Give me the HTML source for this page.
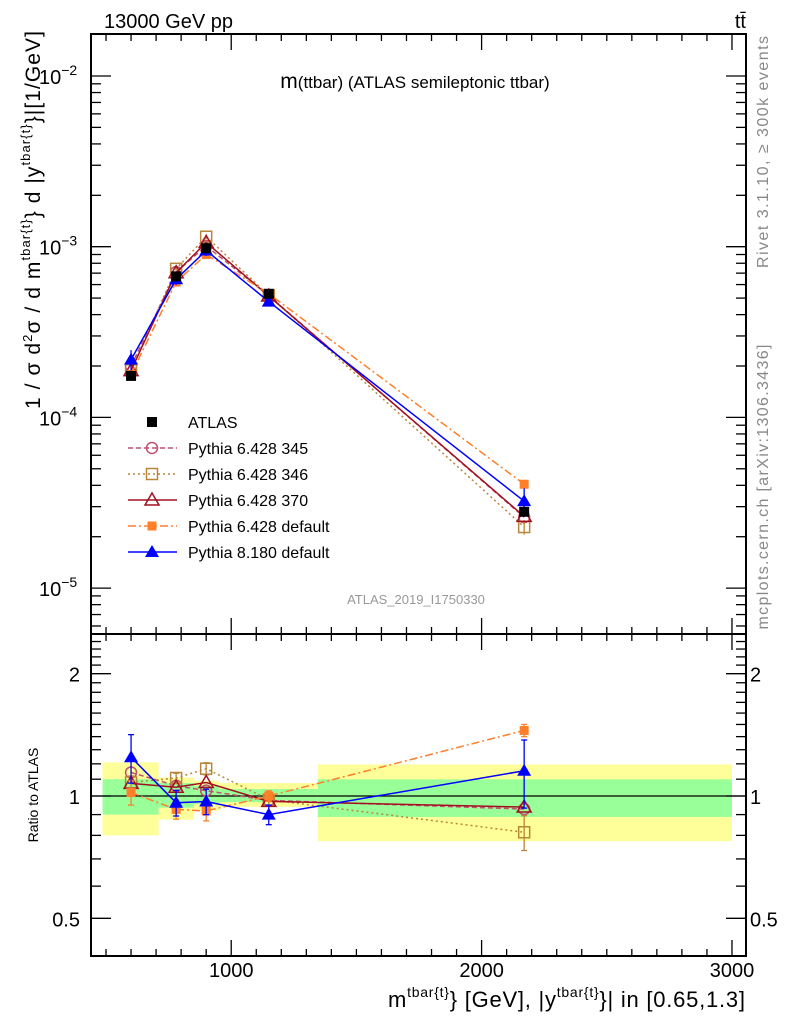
<!DOCTYPE html>
<html><head><meta charset="utf-8"><style>
body{margin:0;background:#fff}
svg{display:block;font-family:"Liberation Sans",sans-serif}
</style></head><body>
<svg id="c" width="786" height="1024" viewBox="0 0 786 1024" xmlns="http://www.w3.org/2000/svg">
<g id="bands"></g><g id="axes"></g><g id="series"></g><g id="labels"></g>
</svg>
<script>
const xs=[600,780,900,1150,2170];
const binLo=[486,710,852,952,1346];
const binHi=[710,852,952,1346,3000];
const atlas=[1.75e-4,6.7e-4,9.8e-4,5.3e-4,2.8e-5];
const yellowUp=[1.21,1.11,1.09,1.076,1.196];
const yellowDn=[0.80,0.875,0.92,0.94,0.774];
const greenUp=[1.10,1.076,1.06,1.04,1.099];
const greenDn=[0.90,0.936,0.955,0.966,0.888];
const p345=[2.0e-4,7.1e-4,1.01e-3,5.17e-4,2.6e-5];
const p346=[1.89e-4,7.42e-4,1.144e-3,5.19e-4,2.28e-5];
const p370=[1.88e-4,7.04e-4,1.058e-3,5.14e-4,2.63e-5];
const pdef=[1.785e-4,6.21e-4,9.0e-4,5.3e-4,4.06e-5];
const p8=[2.18e-4,6.45e-4,9.5e-4,4.77e-4,3.23e-5];
const errP8=[0.17,0.07,0.07,0.05,0.22];
const errDef=[0.07,0.05,0.05,0.03,0.05];
const err346=[0.04,0.03,0.04,0.03,0.08];
const xTicks=[1000,2000,3000];
const yTickExp=[-2,-3,-4,-5];
const rTicks=[0.5,1,2];

const NS="http://www.w3.org/2000/svg";
const L=91,R=746,T=34,MB=634,RB=956;
const X=v=>L+(v-440)*(R-L)/(3056-440);
const Y=v=>76+(-2-Math.log10(v))*170.7;
const RY=v=>796-Math.log2(v)*122.3;
function mk(p,tag,a){const e=document.createElementNS(NS,tag);for(const k in a)e.setAttribute(k,a[k]);p.appendChild(e);return e;}
const gB=document.getElementById('bands'),gA=document.getElementById('axes'),gS=document.getElementById('series'),gL=document.getElementById('labels');

for(let i=0;i<xs.length;i++){
 let y=mk(gB,'rect',{x:X(binLo[i]),y:RY(yellowUp[i]),width:X(binHi[i])-X(binLo[i]),height:RY(yellowDn[i])-RY(yellowUp[i]),fill:'#ffff99'});
 
 
 let g=mk(gB,'rect',{x:X(binLo[i]),y:RY(greenUp[i]),width:X(binHi[i])-X(binLo[i]),height:RY(greenDn[i])-RY(greenUp[i]),fill:'#99ff99'});
 
 
}
mk(gB,'line',{x1:L,x2:R,y1:RY(1),y2:RY(1),stroke:'#000','stroke-width':1.3});

const f1=mk(gA,'rect',{x:L,y:T,width:R-L,height:MB-T,fill:'none',stroke:'#000','stroke-width':2});


const f2=mk(gA,'rect',{x:L,y:MB,width:R-L,height:RB-MB,fill:'none',stroke:'#000','stroke-width':2});


for(let v=500;v<=3000;v+=100){
 const major=v%1000===0, x=X(v), len=major?16:7;
 for(const [yb,dir] of [[MB,-1],[T,1],[RB,-1],[MB,1]]){
  mk(gA,'line',{x1:x,x2:x,y1:yb,y2:yb+dir*len,stroke:'#000','stroke-width':1.3});
 }
}
xTicks.forEach(v=>{const t=mk(gL,'text',{x:X(v),y:977,'text-anchor':'middle','font-size':20});t.textContent=v;
 
 });
for(let e=-6;e<=-2;e++){for(let m=1;m<10;m++){const v=m*Math.pow(10,e),y=Y(v);if(y<T||y>MB)continue;const len=m===1?20:10;
 mk(gA,'line',{x1:L,x2:L+len,y1:y,y2:y,stroke:'#000','stroke-width':1.3});
 mk(gA,'line',{x1:R,x2:R-len,y1:y,y2:y,stroke:'#000','stroke-width':1.3});}}
yTickExp.forEach(e=>{const t=mk(gL,'text',{x:39,y:Y(Math.pow(10,e))+8,'font-size':20});t.innerHTML='10<tspan dy="-9" font-size="14">−'+(-e)+'</tspan>';
 
 });
for(let v=0.45;v<=2.4;v+=0.1){const vv=Math.round(v*10)/10;if(vv<0.45)continue;const y=RY(vv);if(y<MB||y>RB)continue;
 const major=rTicks.includes(vv);const len=major?20:10;
 mk(gA,'line',{x1:L,x2:L+len,y1:y,y2:y,stroke:'#000','stroke-width':1.3});
 mk(gA,'line',{x1:R,x2:R-len,y1:y,y2:y,stroke:'#000','stroke-width':1.3});}
rTicks.forEach(v=>{const t=mk(gL,'text',{x:80,y:RY(v)+8,'font-size':20,'text-anchor':'end'});t.textContent=v;
 
 
 const t2=mk(gL,'text',{x:750,y:RY(v)+8,'font-size':20});t2.textContent=v;
 
 });

function marker(g,type,x,y,col){
 if(type==='sqf')mk(g,'rect',{x:x-5,y:y-5,width:10,height:10,fill:col});
 else if(type==='sqo')mk(g,'rect',{x:x-5.5,y:y-5.5,width:11,height:11,fill:'none',stroke:col,'stroke-width':1.5});
 else if(type==='circ')mk(g,'circle',{cx:x,cy:y,r:5.5,fill:'none',stroke:col,'stroke-width':1.5});
 else if(type==='trio')mk(g,'polygon',{points:`${x},${y-7} ${x-7},${y+5} ${x+7},${y+5}`,fill:'none',stroke:col,'stroke-width':1.5});
 else if(type==='trif')mk(g,'polygon',{points:`${x},${y-7} ${x-7},${y+5} ${x+7},${y+5}`,fill:col});
 else if(type==='sqs')mk(g,'rect',{x:x-4.5,y:y-4.5,width:9,height:9,fill:col});
}
const series=[
 {name:'pythia-6428-345',vals:p345,col:'#c0506e',dash:'5,3',m:'circ',err:null,label:'Pythia 6.428 345'},
 {name:'pythia-6428-346',vals:p346,col:'#b8863b',dash:'2,3',m:'sqo',err:err346,label:'Pythia 6.428 346'},
 {name:'pythia-6428-370',vals:p370,col:'#a01020',dash:'',m:'trio',err:null,label:'Pythia 6.428 370'},
 {name:'pythia-6428-default',vals:pdef,col:'#ff7f2a',dash:'8,3,2,3',m:'sqs',err:errDef,label:'Pythia 6.428 default'},
 {name:'pythia-8180-default',vals:p8,col:'#0000ff',dash:'',m:'trif',err:errP8,label:'Pythia 8.180 default'}];
series.forEach(s=>{
 const g=mk(gS,'g',{});
 
 
 const pts=s.vals.map((v,i)=>X(xs[i])+','+Y(v)).join(' ');
 mk(g,'polyline',{points:pts,fill:'none',stroke:s.col,'stroke-width':1.5,'stroke-dasharray':s.dash});
 const rpts=s.vals.map((v,i)=>X(xs[i])+','+RY(v/atlas[i])).join(' ');
 mk(g,'polyline',{points:rpts,fill:'none',stroke:s.col,'stroke-width':1.5,'stroke-dasharray':s.dash});
 s.vals.forEach((v,i)=>{const x=X(xs[i]);const r=v/atlas[i];
  if(s.err){const e=s.err[i];
   mk(g,'line',{x1:x,x2:x,y1:RY(r+e),y2:RY(r-e),stroke:s.col,'stroke-width':1.3});
   mk(g,'line',{x1:x-3,x2:x+3,y1:RY(r+e),y2:RY(r+e),stroke:s.col,'stroke-width':1.3});
   mk(g,'line',{x1:x-3,x2:x+3,y1:RY(r-e),y2:RY(r-e),stroke:s.col,'stroke-width':1.3});
   mk(g,'line',{x1:x,x2:x,y1:Y(v*(1+e/r)),y2:Y(v*(1-e/r)),stroke:s.col,'stroke-width':1.3});}
  marker(g,s.m,x,Y(v),s.col);marker(g,s.m,x,RY(r),s.col);});
});
const ga=mk(gS,'g',{});


atlas.forEach((v,i)=>{marker(ga,'sqf',X(xs[i]),Y(v),'#000');});

const legY=[422,448,474,500,526,552];
const lg=mk(gL,'g',{});


marker(lg,'sqf',152,legY[0],'#000');
let tt=mk(lg,'text',{x:188,y:legY[0]+6,'font-size':16});tt.textContent='ATLAS';
series.forEach((s,i)=>{const y=legY[i+1];
 mk(lg,'line',{x1:128,x2:177,y1:y,y2:y,stroke:s.col,'stroke-width':1.5,'stroke-dasharray':s.dash});
 marker(lg,s.m,152,y,s.col);
 const t=mk(lg,'text',{x:188,y:y+6,'font-size':16});t.textContent=s.label;
 
 });
</script>
<svg width="786" height="1024" style="position:absolute;left:0;top:0" font-family="Liberation Sans, sans-serif">
<text x="104" y="28" font-size="20">13000 GeV pp</text>
<text x="746" y="28" font-size="20" text-anchor="end">tt̄</text>
<text x="415" y="88" font-size="17" text-anchor="middle"><tspan font-size="21">m</tspan>(ttbar) (ATLAS semileptonic ttbar)</text>
<text x="416" y="604" font-size="13" fill="#999" text-anchor="middle">ATLAS_2019_I1750330</text>
<text transform="translate(768,152) rotate(-90)" font-size="16" fill="#888" text-anchor="middle" textLength="232" lengthAdjust="spacing">Rivet 3.1.10, ≥ 300k events</text>
<text transform="translate(768,487) rotate(-90)" font-size="16" fill="#888" text-anchor="middle" textLength="285" lengthAdjust="spacing">mcplots.cern.ch [arXiv:1306.3436]</text>
<text transform="translate(40,409) rotate(-90)" font-size="21" textLength="378" lengthAdjust="spacing">1 / σ d<tspan dy="-8" font-size="13">2</tspan><tspan dy="8">σ /  d m</tspan><tspan dy="-10" font-size="13">tbar{t}</tspan><tspan dy="10">} d |y</tspan><tspan dy="-10" font-size="13">tbar{t}</tspan><tspan dy="10">}|[1/GeV]</tspan></text>
<text transform="translate(38,795) rotate(-90)" font-size="14" text-anchor="middle">Ratio to ATLAS</text>
<text x="388" y="1007" font-size="22" textLength="357" lengthAdjust="spacing">m<tspan dy="-10" font-size="14">tbar{t}</tspan><tspan dy="10">} [GeV], |y</tspan><tspan dy="-10" font-size="14">tbar{t}</tspan><tspan dy="10">}| in [0.65,1.3]</tspan></text>
</svg>
</body></html>
